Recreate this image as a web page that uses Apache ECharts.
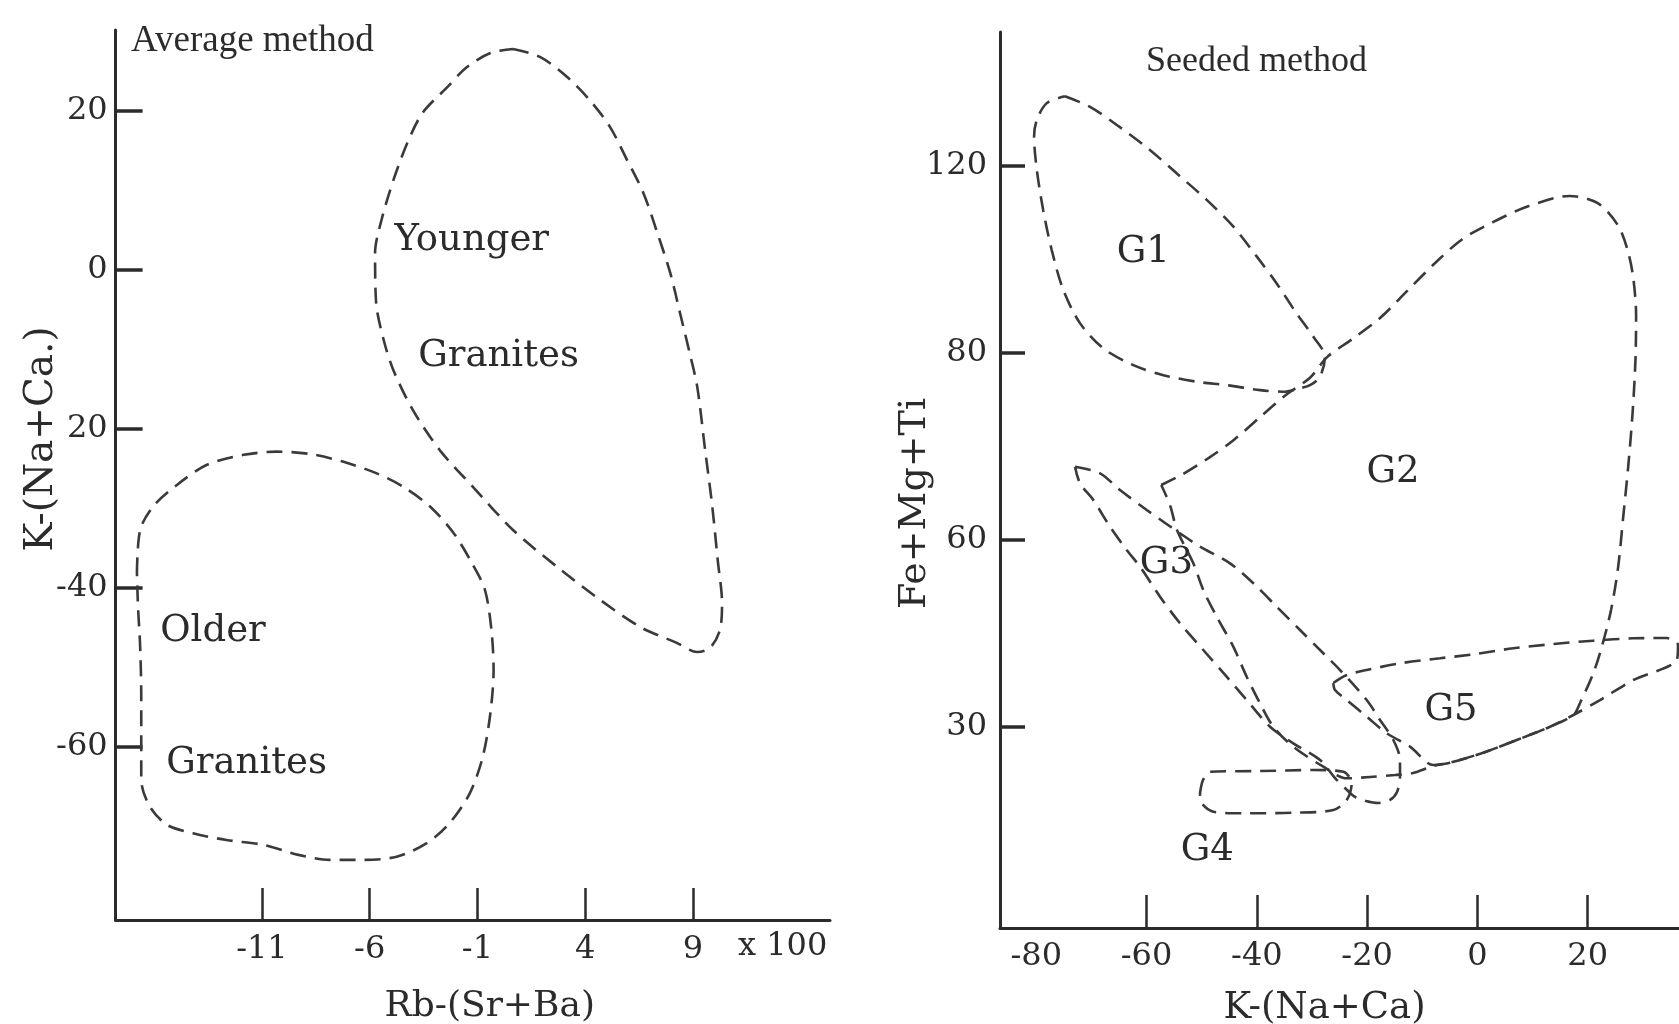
<!DOCTYPE html>
<html>
<head>
<meta charset="utf-8">
<script src="https://cdn.jsdelivr.net/npm/echarts/dist/echarts.min.js"></script>
<style>
  html, body { margin: 0; padding: 0; background: #fff; }
  #main { width: 1679px; height: 1024px; }
</style>
</head>
<body>
<div id="main"></div>
<script type="text/javascript">
// ---- left panel: Average method (x in units of 100) ----
var leftXTicks = [-11, -6, -1, 4, 9];
var leftYTicks = [20, 0, -20, -40, -60];
var leftYTickLabels = ['20', '0', '20', '-40', '-60'];

var youngerGranites = [
  [0.65, 27.8], [1.9, 26.8], [3.15, 24.3], [4.2, 21.4], [5.15, 18.0], [5.95, 13.8],
  [6.7, 9.7], [7.35, 4.65], [7.95, -0.4], [8.4, -5.4], [8.85, -10.45], [9.2, -14.7],
  [9.55, -22.3], [9.9, -29.8], [10.15, -36.5], [10.35, -41.9], [10.25, -45.3], [9.8, -47.5],
  [9.2, -48.05], [8.25, -46.9], [6.55, -44.9], [4.7, -41.5], [2.7, -37.35], [0.65, -32.7],
  [-1.2, -27.3], [-2.75, -22.65], [-4.0, -17.6], [-4.9, -12.6], [-5.35, -8.8], [-5.7, -4.15],
  [-5.75, 2.15], [-5.45, 6.3], [-4.9, 11.3], [-4.25, 16.0], [-3.55, 19.75], [-2.4, 23.0],
  [-1.5, 25.5], [-0.4, 27.3], [0.65, 27.8]
];
var olderGranites = [
  [-16.8, -38.15], [-16.65, -32.7], [-16.05, -29.75], [-14.95, -27.05], [-13.55, -24.5],
  [-11.85, -23.25], [-10.3, -22.85], [-8.75, -23.15], [-7.25, -24.1], [-5.7, -25.55],
  [-4.45, -27.25], [-3.2, -29.75], [-2.1, -33.1], [-1.25, -36.9], [-0.65, -40.25],
  [-0.35, -45.3], [-0.25, -50.3], [-0.4, -55.75], [-0.75, -61.2], [-1.35, -65.8],
  [-2.3, -69.6], [-3.35, -72.1], [-4.75, -73.8], [-6.3, -74.2], [-7.85, -74.2],
  [-9.25, -73.6], [-10.95, -72.3], [-12.65, -71.7], [-14.2, -70.85], [-15.4, -69.8],
  [-16.2, -67.5], [-16.6, -64.15], [-16.6, -59.95], [-16.6, -53.65], [-16.65, -47.4],
  [-16.75, -42.35], [-16.8, -38.15]
];
// label anchors [x, y, text]
var leftLabels = [
  [-1.26, 3.7, 'Younger'], [-0.02, -10.9, 'Granites'],
  [-13.27, -45.4, 'Older'], [-11.71, -62.1, 'Granites']
];

// ---- right panel: Seeded method ----
var rightXTicks = [-60, -40, -20, 0, 20];
var rightXLabelValues = [-80, -60, -40, -20, 0, 20];
var rightYTicks = [30, 60, 90, 120];
var rightYTickLabels = ['30', '60', '80', '120'];

var g1 = [
  [-74.8, 131.1], [-70.25, 129.4], [-65.4, 126.5], [-59.4, 122.5], [-54.55, 118.75],
  [-49.1, 114.5], [-44.25, 110.2], [-40.0, 105.4], [-36.4, 101.1], [-32.8, 96.3],
  [-29.75, 92.55], [-27.65, 89.35], [-28.55, 86.15], [-30.35, 84.8], [-32.2, 84.3],
  [-35.2, 83.75], [-39.4, 84.0], [-45.5, 84.8], [-50.9, 85.35], [-56.95, 86.4],
  [-62.4, 88.0], [-67.85, 90.7], [-72.05, 94.7], [-75.1, 100.05], [-77.2, 106.45],
  [-78.75, 112.85], [-79.9, 119.3], [-80.4, 124.6], [-79.9, 127.3], [-78.1, 130.0],
  [-74.8, 131.1]
];
var g2 = [
  [-57.34, 68.79], [-53.59, 70.46], [-48.57, 73.23], [-44.18, 76.01], [-39.15, 79.89],
  [-34.75, 83.22], [-30.36, 85.99], [-27.22, 89.33], [-22.83, 92.1], [-17.81, 95.43],
  [-12.78, 99.86], [-7.76, 104.3], [-2.74, 108.19], [2.9, 110.96], [9.2, 113.46],
  [16.72, 115.12], [21.75, 114.01], [25.5, 110.4], [27.39, 105.96], [28.33, 101.52],
  [28.78, 95.98], [28.66, 88.76], [28.15, 80.45], [27.39, 72.13], [26.46, 63.81],
  [25.5, 55.48], [24.25, 48.82], [22.69, 43.28], [21.11, 38.84], [18.61, 33.85],
  [17.4, 31.93], [13.17, 30.05], [7.13, 27.92], [1.07, 25.89], [-4.97, 24.29],
  [-7.99, 23.76], [-11.68, 22.63], [-14.94, 22.31], [-19.48, 21.99], [-23.7, 21.78],
  [-27.95, 23.65], [-33.39, 26.85], [-37.01, 30.06], [-39.43, 33.8], [-41.84, 38.07],
  [-44.27, 42.88], [-47.28, 47.69], [-49.71, 51.96], [-51.52, 56.24], [-54.48, 61.58],
  [-55.75, 65.59], [-57.34, 68.79]
];
var g3 = [
  [-72.98, 71.73], [-68.44, 70.67], [-64.82, 67.99], [-59.97, 64.79], [-56.96, 62.91],
  [-53.94, 61.05], [-50.31, 58.91], [-44.87, 56.24], [-40.64, 53.04], [-36.4, 49.29],
  [-32.17, 45.55], [-27.95, 41.82], [-24.92, 39.14], [-20.08, 34.33], [-17.66, 31.13],
  [-15.25, 27.92], [-14.04, 24.72], [-14.04, 21.99], [-14.58, 19.59], [-15.85, 18.31],
  [-18.03, 17.83], [-20.2, 18.15], [-22.2, 18.79], [-23.65, 19.91], [-25.82, 21.83],
  [-28.54, 24.72], [-33.39, 27.39], [-37.61, 30.05], [-41.84, 34.33], [-45.47, 38.07],
  [-49.71, 42.35], [-53.94, 46.63], [-57.56, 50.89], [-61.19, 55.7], [-63.6, 58.38],
  [-66.63, 62.11], [-69.66, 66.39], [-72.07, 69.07], [-72.98, 71.73]
];
var g4 = [
  [-50.31, 19.38], [-49.76, 21.51], [-48.49, 22.84], [-39.43, 22.95], [-29.76, 23.11],
  [-24.32, 22.84], [-22.8, 20.98], [-23.7, 18.31], [-26.13, 16.7], [-33.39, 16.27],
  [-42.45, 16.17], [-47.89, 16.43], [-50.0, 17.78], [-50.31, 19.38]
];
var g5 = [
  [-26.13, 37.06], [-23.7, 38.34], [-20.08, 39.14], [-14.04, 40.21], [-6.78, 41.02],
  [-0.74, 41.66], [6.51, 42.62], [13.77, 43.31], [21.02, 43.84], [28.28, 44.22],
  [34.33, 44.27], [36.38, 43.15], [36.15, 40.74], [28.28, 37.54], [22.24, 34.33],
  [17.4, 31.93], [13.17, 30.05], [7.13, 27.92], [1.07, 25.89], [-4.97, 24.29],
  [-7.99, 23.92], [-12.22, 26.85], [-16.45, 29.0], [-20.08, 31.66], [-23.7, 34.33],
  [-25.82, 35.94], [-26.13, 37.06]
];
var rightLabels = [
  [-60.6, 106.0, 'G1'], [-15.3, 70.8, 'G2'], [-56.4, 56.2, 'G3'],
  [-49.0, 10.2, 'G4'], [-4.8, 32.6, 'G5']
];

var ink = '#2b2b2b';
var serif = 'DejaVu Serif';

function outline(data, xi, yi) {
  return {
    type: 'line', xAxisIndex: xi, yAxisIndex: yi, data: data,
    symbol: 'none', smooth: 0.3, clip: false, silent: true,
    lineStyle: { color: '#3a3a3a', width: 2.6, type: [16, 9] }
  };
}
function labels(list, xi, yi) {
  return {
    type: 'scatter', xAxisIndex: xi, yAxisIndex: yi, symbolSize: 1, clip: false, silent: true,
    itemStyle: { color: 'rgba(0,0,0,0)', opacity: 1 },
    data: list.map(function (d) { return { value: [d[0], d[1]], name: d[2] }; }),
    label: {
      show: true, position: 'inside', formatter: '{b}',
      fontFamily: serif, fontSize: 37, color: ink, opacity: 1
    }
  };
}
function axisBase(extra) {
  var a = {
    type: 'value',
    splitLine: { show: false },
    nameMoveOverlap: false,
    axisLine: { show: true, onZero: false, lineStyle: { color: ink, width: 3 } }
  };
  for (var k in extra) a[k] = extra[k];
  return a;
}

var chart = echarts.init(document.getElementById('main'));
var option = {
  backgroundColor: '#fff',
  animation: false,
  title: [
    { text: 'Average method', left: 131, top: 23, padding: 0,
      textStyle: { fontFamily: 'Liberation Serif', fontSize: 37, fontWeight: 'normal', color: ink } },
    { text: 'Seeded method', left: 1146, top: 44, padding: 0,
      textStyle: { fontFamily: 'Liberation Serif', fontSize: 36, fontWeight: 'normal', color: ink } }
  ],
  grid: [
    { left: 115.6, top: 30, width: 714.4, height: 890, outerBoundsMode: 'none', containLabel: false },
    { left: 1000, top: 32, width: 679, height: 896, outerBoundsMode: 'none', containLabel: false }
  ],
  xAxis: [
    axisBase({
      gridIndex: 0, min: -17.79, max: 15.36,
      axisTick: { inside: true, length: 32, customValues: leftXTicks, lineStyle: { color: ink, width: 2.5 } },
      axisLabel: { customValues: leftXTicks, margin: 14, fontFamily: serif, fontSize: 32, color: ink },
      name: 'Rb-(Sr+Ba)', nameLocation: 'middle', nameGap: 69,
      nameTextStyle: { fontFamily: serif, fontSize: 36, color: ink, padding: [0, 0, 0, 34] }
    }),
    axisBase({
      gridIndex: 1, min: -86.58, max: 36.56,
      axisTick: { inside: true, length: 33, customValues: rightXTicks, lineStyle: { color: ink, width: 2.5 } },
      axisLabel: { customValues: rightXLabelValues, margin: 13, fontFamily: serif, fontSize: 32, color: ink },
      name: 'K-(Na+Ca)', nameLocation: 'middle', nameGap: 62,
      nameTextStyle: { fontFamily: serif, fontSize: 37, color: ink, padding: [0, 30, 0, 0] }
    })
  ],
  yAxis: [
    axisBase({
      gridIndex: 0, min: -81.76, max: 30.19,
      axisTick: { inside: true, length: 27, customValues: leftYTicks, lineStyle: { color: ink, width: 3.5 } },
      axisLabel: {
        customValues: leftYTicks, margin: 8, fontFamily: serif, fontSize: 32, color: ink,
        formatter: function (v) { return leftYTickLabels[leftYTicks.indexOf(v)]; }
      },
      name: 'K-(Na+Ca.)', nameLocation: 'middle', nameRotate: 90, nameGap: 54,
      nameTextStyle: { fontFamily: serif, fontSize: 39, color: ink, padding: [0, 0, 0, 72] }
    }),
    axisBase({
      gridIndex: 1, min: -2.21, max: 141.4,
      axisTick: { inside: true, length: 25, customValues: rightYTicks, lineStyle: { color: ink, width: 3.5 } },
      axisLabel: {
        customValues: rightYTicks, margin: 13, fontFamily: serif, fontSize: 32, color: ink,
        formatter: function (v) { return rightYTickLabels[rightYTicks.indexOf(v)]; }
      },
      name: 'Fe+Mg+Ti', nameLocation: 'middle', nameRotate: 90, nameGap: 66,
      nameTextStyle: { fontFamily: serif, fontSize: 38, color: ink, padding: [0, 47, 0, 0] }
    })
  ],
  graphic: [
    { type: 'text', left: 738, top: 931, silent: true,
      style: { text: 'x 100', font: '32px "DejaVu Serif"', fill: ink } }
  ],
  series: [
    outline(youngerGranites, 0, 0),
    outline(olderGranites, 0, 0),
    labels(leftLabels, 0, 0),
    outline(g1, 1, 1),
    outline(g2, 1, 1),
    outline(g3, 1, 1),
    outline(g4, 1, 1),
    outline(g5, 1, 1),
    labels(rightLabels, 1, 1)
  ]
};
chart.setOption(option);
</script>
</body>
</html>
